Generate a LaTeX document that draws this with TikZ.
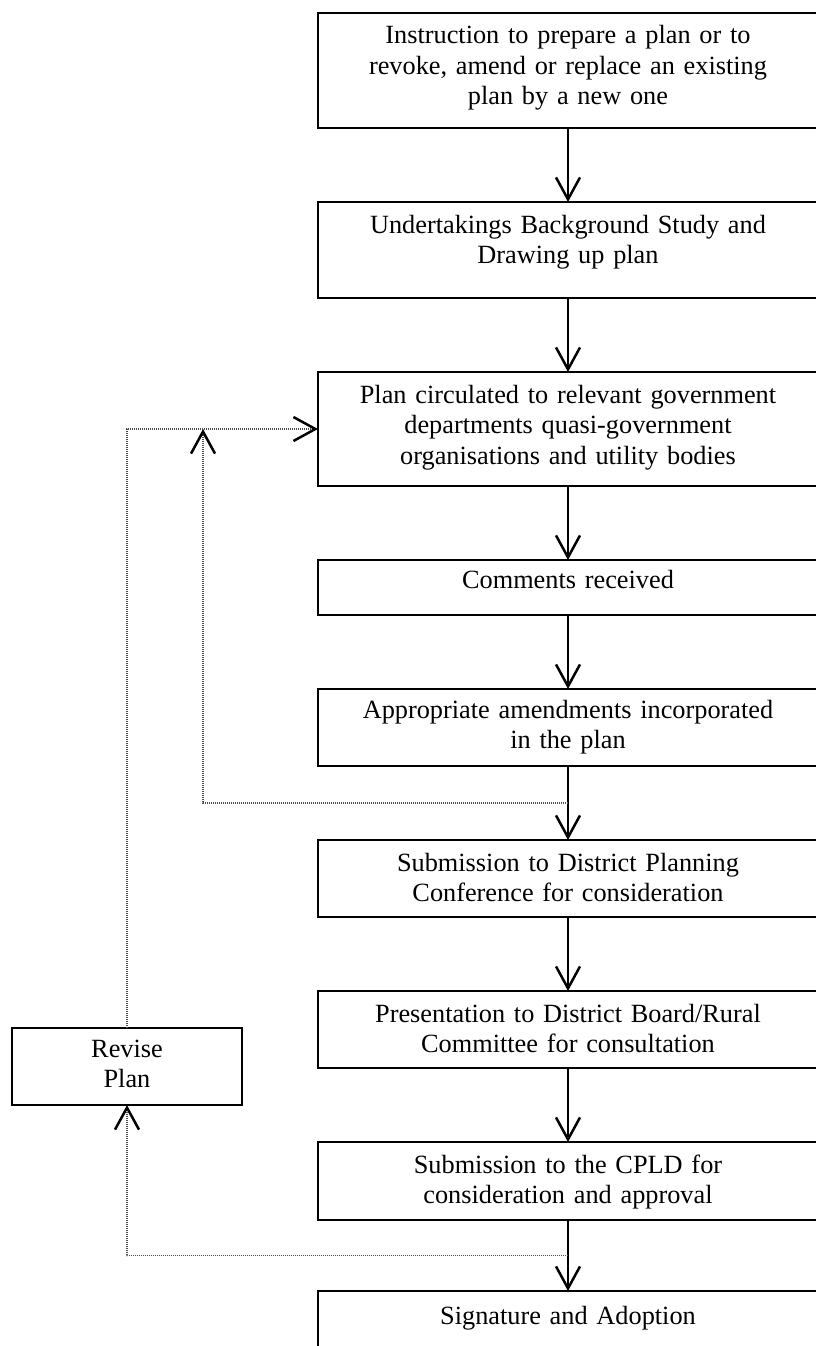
\documentclass[tikz,border=0pt]{standalone}
\usepackage{fontspec}
\setmainfont{Liberation Serif}
\usetikzlibrary{arrows.meta,calc,positioning}

\begin{document}
\begin{tikzpicture}
[x=1pt,y=-1pt,>={Straight Barb[length=22pt,width=24pt]},font=\fontsize{26.3pt}{30.5pt}\selectfont,
box/.style = {draw, line width=2.5pt, anchor=north, outer sep=0pt, inner sep=0pt, text width=500pt, align=center, text height=31pt},
flow/.style = {->, line width=2.5pt},
feedback/.style = {draw=black!70, line width=1.1pt, dash pattern=on 1pt off 1pt, -{Straight Barb[length=22pt,width=24pt,line width=2.5pt,color=black]}},]
\useasboundingbox (0,0) rectangle (816,1346);
\clip (0,0) rectangle (816,1346);

\node (instr) at (568,13)[box,text depth=84pt] {Instruction to prepare a plan or to\\revoke, amend or replace an existing\\plan by a new one};
\node (study) at (568,202)[box,text depth=65pt] {Undertakings Background Study and\\Drawing up plan};
\node (circ) at (568,372)[box,text depth=83pt] {Plan circulated to relevant government\\departments quasi-government\\organisations and utility bodies};
\node (comm) at (568,560)[box,text height=28pt,text depth=27pt] {Comments received};
\node (amend) at (568,689)[box,text height=29pt,text depth=48pt] {Appropriate amendments incorporated\\in the plan};
\node (conf) at (568,840)[box,text depth=46pt] {Submission to District Planning\\Conference for consideration};
\node (board) at (568,991)[box,text depth=46pt] {Presentation to District Board/Rural\\Committee for consultation};
\node (cpld) at (568,1142)[box,text depth=47pt] {Submission to the CPLD for\\consideration and approval};
\node (sign) at (568,1291)[box,text height=33pt,text depth=90pt] {Signature and Adoption};
\node (rev) at (127,1028)[box,text width=230pt,text height=29pt,text depth=48pt] {Revise\\Plan};

\draw[flow] (instr)--(study);
\draw[flow] (study)--(circ);
\draw[flow] (circ)--(comm);
\draw[flow] (comm)--(amend);
\draw[flow] (amend)--(conf);
\draw[flow] (conf)--(board);
\draw[flow] (board)--(cpld);
\draw[flow] (cpld)--(sign);

\coordinate (m1) at ($(amend.south)!.5!(conf.north)$);
\coordinate (m2) at ($(cpld.south)!.5!(sign.north)$);

\draw[feedback] (m1) -| ($(circ.west)+(-115,0)$);
\draw[feedback] (m2) -| (rev.south);
\draw[feedback] (rev.north) |- (circ.west);

\end{tikzpicture}
\end{document}
